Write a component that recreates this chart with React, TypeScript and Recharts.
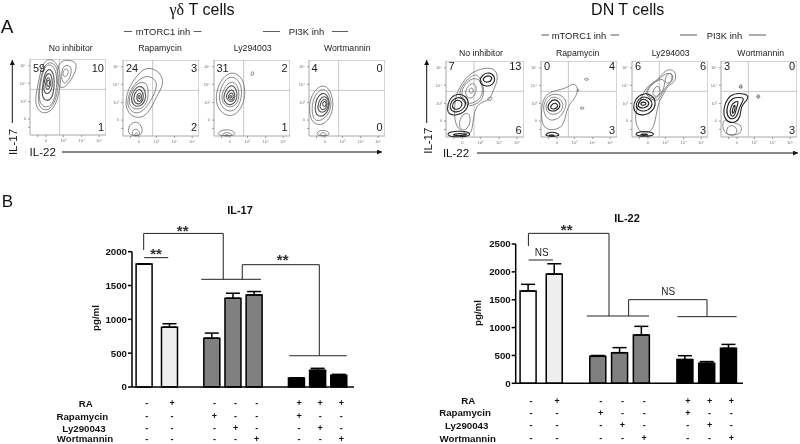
import {
  Bar,
  BarChart,
  Cell,
  ErrorBar,
  ReferenceArea,
  ReferenceLine,
  Scatter,
  ScatterChart,
  XAxis,
  YAxis,
} from "recharts";

const FONT = '"Liberation Sans", Arial, sans-serif';

// flow plot contours, [IL-22, IL-17] on a 0-100 display scale
type Loop = number[][];

const gdNone: Loop[] = [
  [[8,36],[16,28],[26,30],[34,40],[38,55],[41,72],[38,90],[30,100],[20,99],[14,85],[11,68],[7,50]],
  [[10,39],[18,32],[27,34],[34,46],[37,62],[38,80],[33,95],[22,96],[16,84],[12,64]],
  [[12,42],[20,36],[28,38],[33,50],[36,68],[34,86],[27,94],[19,90],[15,74],[12,58]],
  [[36,62],[46,62],[54,72],[62,88],[60,97],[48,99],[38,96],[35,80]],
  [[42,68],[48,68],[54,78],[55,90],[47,93],[41,86]],
  [[44,76],[50,78],[51,86],[46,88],[43,82]],
];
const gdNoneCore: Loop[] = [
  [[15,50],[22,44],[29,48],[32,62],[32,78],[27,88],[20,84],[17,68]],
  [[17,58],[23,53],[28,58],[30,68],[28,80],[23,82],[19,74]],
  [[20,62],[24,59],[27,64],[27,72],[24,77],[21,72]],
  [[22,65],[25,63],[26,68],[25,73],[22,71]],
];
const gdRapa: Loop[] = [
  [[2,38],[6,62],[20,82],[32,92],[50,84],[54,68],[44,52],[38,38],[28,24],[12,24]],
  [[4,42],[10,62],[22,76],[34,80],[46,72],[42,56],[34,42],[24,30],[12,30]],
  [[7,46],[12,62],[22,72],[32,70],[34,54],[30,40],[20,34],[10,38]],
  [[8,0],[6,10],[12,18],[20,19],[26,10],[25,0]],
  [[12,0],[12,7],[17,10],[22,6],[22,0]],
  [[15,0],[16,4],[19,4],[20,0]],
];
const gdRapaCore: Loop[] = [
  [[10,50],[15,62],[23,67],[30,60],[30,46],[22,38],[13,40]],
  [[13,50],[18,61],[24,62],[28,52],[24,42],[16,42]],
  [[17,50],[20,57],[24,56],[25,48],[21,44]],
  [[19,51],[21,54],[23,52],[22,48]],
];
const gdLy: Loop[] = [
  [[2,45],[4,64],[14,80],[26,85],[38,76],[41,60],[40,46],[32,30],[20,25],[8,32]],
  [[6,46],[8,62],[16,76],[26,79],[35,70],[37,56],[34,42],[26,32],[14,33]],
  [[9,48],[12,60],[18,70],[27,72],[33,62],[33,48],[27,38],[16,38]],
  [[48,80],[50,86],[53,83],[51,79]],
  [[4,0],[6,6],[15,9],[26,7],[30,0]],
  [[9,0],[14,5],[22,4],[25,0]],
  [[13,0],[17,3],[21,0]],
];
const gdLyCore: Loop[] = [
  [[12,50],[15,60],[21,67],[28,65],[31,55],[29,45],[22,40],[15,43]],
  [[15,50],[18,58],[24,62],[28,55],[27,47],[21,44]],
  [[18,50],[20,56],[25,57],[26,50],[22,46]],
  [[20,51],[22,54],[24,52],[22,49]],
];
const gdWort: Loop[] = [
  [[1,22],[0,45],[8,62],[20,68],[28,60],[32,46],[31,30],[22,16],[10,14]],
  [[4,28],[4,44],[10,58],[20,63],[27,55],[30,42],[26,28],[16,20],[8,20]],
  [[9,0],[11,6],[18,8],[26,6],[28,0]],
  [[13,0],[16,5],[22,4],[24,0]],
];
const gdWortCore: Loop[] = [
  [[8,30],[8,44],[13,54],[21,58],[27,48],[27,36],[20,26],[12,26]],
  [[11,34],[12,44],[17,52],[23,52],[27,44],[24,34],[17,30]],
  [[14,36],[15,44],[20,50],[24,46],[24,38],[19,34]],
  [[17,40],[19,46],[23,45],[22,38]],
];
const dnNone: Loop[] = [
  [[12,54],[18,66],[28,82],[44,90],[62,92],[68,78],[60,60],[56,48],[44,46],[36,36],[34,10],[30,2],[14,10],[10,28]],
  [[15,55],[21,68],[31,80],[42,84],[50,62],[46,48],[36,42],[28,40]],
  [[18,56],[24,70],[34,78],[44,76],[48,62],[44,50],[34,44],[26,44]],
  [[24,58],[28,68],[36,72],[40,64],[36,52],[28,50]],
  [[28,60],[32,66],[36,62],[33,56]],
  [[18,28],[16,10],[26,8],[32,20],[30,34]],
  [[52,50],[58,54],[60,50],[55,47]],
];
const dnNoneCore: Loop[] = [
  [[1,36],[4,50],[14,58],[26,54],[30,44],[24,32],[12,28],[4,30]],
  [[4,38],[7,48],[15,53],[24,50],[26,42],[20,34],[10,32]],
  [[7,40],[11,48],[17,49],[22,44],[18,37],[11,36]],
  [[42,72],[46,82],[56,86],[64,78],[60,68],[50,66]],
  [[46,74],[50,80],[57,81],[60,76],[54,71]],
  [[2,1],[2,6],[14,8],[30,7],[32,1],[16,0]],
  [[5,2],[14,5],[26,4],[28,2]],
];
const dnRapa: Loop[] = [
  [[0,30],[2,50],[12,60],[26,62],[36,66],[44,72],[50,62],[44,50],[36,42],[32,26],[28,12],[12,8],[2,14]],
  [[2,34],[5,50],[14,57],[26,56],[34,48],[32,36],[24,24],[10,20]],
  [[5,36],[8,48],[16,54],[26,50],[30,42],[26,32],[14,28]],
  [[56,76],[60,78],[64,76],[60,74]],
  [[50,38],[54,40],[58,38],[54,36]],
  [[46,60],[50,64],[50,60]],
];
const dnRapaCore: Loop[] = [
  [[4,1],[8,5],[14,7],[22,5],[26,1]],
  [[8,1],[14,4],[20,1]],
  [[8,38],[11,46],[17,50],[24,47],[26,40],[20,34],[12,34]],
  [[11,38],[15,44],[20,45],[23,40],[18,36]],
];
const dnLy: Loop[] = [
  [[14,55],[20,68],[34,74],[44,90],[58,88],[58,72],[46,68],[42,56],[34,46],[30,14],[22,4],[8,6],[2,30]],
  [[16,56],[23,68],[36,76],[44,84],[54,84],[52,72],[42,64],[38,52],[30,46]],
  [[18,58],[26,70],[36,76],[44,76],[42,62],[34,52],[26,50]],
  [[42,72],[46,84],[54,84],[54,74],[48,70]],
  [[26,56],[30,66],[36,68],[38,58],[32,52]],
];
const dnLyCore: Loop[] = [
  [[1,38],[4,50],[14,58],[26,56],[32,46],[28,34],[16,28],[6,30]],
  [[4,40],[8,50],[16,54],[24,50],[28,44],[22,34],[10,34]],
  [[7,42],[12,50],[18,50],[24,44],[18,38],[10,38]],
  [[10,43],[15,47],[20,44],[15,41]],
  [[3,1],[6,6],[16,8],[28,6],[30,1]],
  [[8,2],[16,5],[24,2]],
];
const dnWort: Loop[] = [
  [[2,2],[2,24],[8,20],[22,18],[28,14],[26,2]],
  [[6,2],[8,14],[16,16],[22,10],[20,2]],
  [[23,66],[26,70],[29,66],[26,63]],
  [[24,66],[26,68],[28,66],[26,64]],
  [[46,53],[49,57],[52,53],[49,50]],
  [[47,53],[49,55],[51,53],[49,51]],
];
const dnWortCore: Loop[] = [
  [[3,28],[4,42],[12,56],[24,58],[36,56],[35,48],[26,42],[26,26],[18,18],[8,20]],
  [[7,28],[8,42],[15,52],[24,52],[32,52],[24,40],[22,28],[15,22]],
  [[11,28],[13,42],[18,46],[24,48],[20,38],[18,26]],
  [[14,30],[16,40],[19,44],[18,32]],
];

const flowTicks = [10, 21, 44, 68, 91];
const flowTickLabels = ["", "0", "10³", "10⁴", "10⁵"];

// quadrant percentages: UL, UR, LR
const gdCounts = [
  ["59", "10", "1"],
  ["24", "3", "2"],
  ["31", "2", "1"],
  ["4", "0", "0"],
];
const dnCounts = [
  ["7", "13", "6"],
  ["0", "4", "3"],
  ["6", "6", "3"],
  ["3", "0", "3"],
];
const inhibitors = ["No inhibitor", "Rapamycin", "Ly294003", "Wortmannin"];

// bar charts
const barSlots = [0, 6, 16, 21, 26, 36, 41, 46];
const il17Values = [1818, 885, 722, 1312, 1361, 133, 246, 172];
const il17Errors = [0, 50, 75, 74, 50, 4, 30, 15];
const il22Values = [1656, 1960, 484, 550, 867, 425, 360, 628];
const il22Errors = [120, 185, 15, 90, 155, 70, 30, 70];
const barFills = ["#ffffff", "#eeeeee", "#808080", "#808080", "#808080", "#000000", "#000000", "#000000"];

const treatmentNames = ["RA", "Rapamycin", "Ly290043", "Wortmannin"];
const raRow = ["-", "+", "-", "-", "-", "+", "+", "+"];
const rapaRow = ["-", "-", "+", "-", "-", "+", "-", "-"];
const lyRow = ["-", "-", "-", "+", "-", "-", "+", "-"];
const wortRow = ["-", "-", "-", "-", "+", "-", "-", "+"];
const treatmentRows = [raRow, rapaRow, lyRow, wortRow];

// significance brackets, [slot, pg/ml]
const il17Brackets = [
  [[0, 2025], [0, 2270], [18.8, 2270], [18.8, 1592]],
  [[0.1, 1912], [5.8, 1912]],
  [[13.6, 1592], [27.7, 1592]],
  [[23.3, 1592], [23.3, 1808], [41.5, 1808], [41.5, 462]],
  [[34.4, 462], [48, 462]],
];
const il22Brackets = [
  [[0.1, 2464], [0.1, 2691], [18.6, 2691], [18.6, 1208]],
  [[0.15, 2213], [5.74, 2213]],
  [[13.5, 1208], [27.8, 1208]],
  [[23.1, 1208], [23.1, 1501], [41.1, 1501], [41.1, 1196]],
  [[34.3, 1196], [47.9, 1196]],
];

function FlowPanel({ left, top, width, height, gateX, gateY, loops, core = [], coreStroke, counts, labelTop, labelBottom }: {
  left: number; top: number; width: number; height: number; gateX: number; gateY: number;
  loops: Loop[]; core?: Loop[]; coreStroke: string; counts: string[]; labelTop: number; labelBottom: number;
}) {
  const axisW = 14;
  const axisH = 10;
  const drawLoop = (loop: Loop, key: string, stroke: string, strokeWidth: number) => (
    <Scatter
      key={key}
      data={loop.map(([x, y]) => ({ x, y }))}
      line={{ stroke, strokeWidth }}
      lineJointType="basisClosed"
      shape={() => <g />}
      isAnimationActive={false}
    />
  );
  const labelStyle = { position: "absolute", fontFamily: FONT, fontSize: 11, color: "#222", lineHeight: "11px" } as const;
  return (
    <div style={{ position: "absolute", left: left - axisW, top }}>
      <ScatterChart width={width + axisW} height={height + axisH} margin={{ top: 0, right: 0, bottom: 0, left: 0 }}>
        <XAxis
          type="number"
          dataKey="x"
          domain={[0, 100]}
          ticks={flowTicks}
          tickFormatter={(v: number) => flowTickLabels[flowTicks.indexOf(v)]}
          height={axisH}
          interval={0}
          tickSize={2}
          axisLine={false}
          stroke="#999"
          tick={{ fontSize: 4, fill: "#777", fontFamily: FONT }}
        />
        <YAxis
          type="number"
          dataKey="y"
          domain={[0, 100]}
          ticks={flowTicks}
          tickFormatter={(v: number) => flowTickLabels[flowTicks.indexOf(v)]}
          width={axisW}
          interval={0}
          tickSize={2}
          axisLine={false}
          stroke="#999"
          tick={{ fontSize: 4, fill: "#777", fontFamily: FONT }}
        />
        <ReferenceArea x1={0} x2={100} y1={0} y2={100} fill="none" stroke="#a8a8a8" strokeWidth={1} />
        <ReferenceLine x={gateX} stroke="#bbb" strokeWidth={0.8} />
        <ReferenceLine y={gateY} stroke="#bbb" strokeWidth={0.8} />
        {loops.map((loop, i) => drawLoop(loop, `l${i}`, "#6a6a6a", 0.8))}
        {core.map((loop, i) => drawLoop(loop, `c${i}`, coreStroke, 1.1))}
      </ScatterChart>
      <div style={{ ...labelStyle, left: axisW + 3, top: labelTop - top }}>{counts[0]}</div>
      <div style={{ ...labelStyle, right: 2, top: labelTop - top }}>{counts[1]}</div>
      <div style={{ ...labelStyle, right: 2, top: labelBottom - top }}>{counts[2]}</div>
    </div>
  );
}

function TreatmentTick({ x, index, rowY }: { x: number; index: number; rowY: number[] }) {
  return (
    <g>
      {treatmentRows.map((row, r) => (
        <text key={r} x={x + 3} y={rowY[r]} textAnchor="middle" dominantBaseline="central" fontFamily={FONT} fontWeight="bold" fontSize={9} fill="#111">
          {row[index]}
        </text>
      ))}
    </g>
  );
}

function CytokineChart({ left, values, errors, brackets, yMax, yTicks, margin, axisWidth, axisHeight, xDomain, rowY }: {
  left: number; values: number[]; errors: number[]; brackets: number[][][]; yMax: number; yTicks: number[];
  margin: { top: number; right: number }; axisWidth: number; axisHeight: number; xDomain: number[]; rowY: number[];
}) {
  const data = barSlots.map((slot, i) => ({ slot, value: values[i], err: [0, errors[i]] }));
  return (
    <div style={{ position: "absolute", left, top: 190 }}>
      <BarChart width={400} height={254} data={data} margin={{ top: margin.top, right: margin.right, bottom: 0, left: 0 }}>
        <XAxis
          type="number"
          dataKey="slot"
          domain={xDomain}
          allowDataOverflow
          ticks={barSlots}
          interval={0}
          height={axisHeight}
          tickLine={false}
          axisLine={{ stroke: "#000", strokeWidth: 1.5 }}
          tick={(p: any) => <TreatmentTick x={p.x} index={p.index} rowY={rowY} />}
        />
        <YAxis
          type="number"
          domain={[0, yMax]}
          ticks={yTicks}
          width={axisWidth}
          interval={0}
          tickSize={4}
          tickMargin={1}
          axisLine={{ stroke: "#000", strokeWidth: 1.5 }}
          tickLine={{ stroke: "#000", strokeWidth: 1.5 }}
          tick={{ fontSize: 9.7, fontWeight: "bold", fill: "#111", fontFamily: FONT }}
        />
        <Bar dataKey="value" barSize={16} stroke="#000" strokeWidth={1.5} isAnimationActive={false}>
          {data.map((d, i) => (
            <Cell key={d.slot} fill={barFills[i]} />
          ))}
          <ErrorBar dataKey="err" direction="y" width={7} stroke="#000" strokeWidth={1.5} isAnimationActive={false} />
        </Bar>
        {brackets.flatMap((path, b) =>
          path.slice(1).map((pt, i) => (
            <ReferenceLine
              key={`${b}-${i}`}
              segment={[
                { x: path[i][0], y: path[i][1] },
                { x: pt[0], y: pt[1] },
              ]}
              ifOverflow="visible"
              stroke="#222"
              strokeWidth={1}
            />
          )),
        )}
      </BarChart>
    </div>
  );
}

function T({ x, y, size, bold, rot, family, color = "#111", children }: any) {
  return (
    <text
      x={x}
      y={y}
      fontSize={size}
      fontWeight={bold ? "bold" : "normal"}
      fontFamily={family ?? FONT}
      fill={color}
      textAnchor="middle"
      dominantBaseline="central"
      transform={rot ? `rotate(${rot} ${x} ${y})` : undefined}
    >
      {children}
    </text>
  );
}

const gdPanels = [
  { left: 30, top: 58.5, width: 76, gateX: 39, gateY: 60, loops: gdNone, core: gdNoneCore },
  { left: 123, top: 60, width: 76, gateX: 39, gateY: 60, loops: gdRapa, core: gdRapaCore },
  { left: 213.5, top: 60, width: 76, gateX: 39, gateY: 60, loops: gdLy, core: gdLyCore },
  { left: 308.5, top: 60, width: 76, gateX: 39, gateY: 60, loops: gdWort, core: gdWortCore },
];
const dnPanels = [
  { left: 445.5, top: 60.5, width: 78, gateX: 36, gateY: 60, loops: dnNone, core: dnNoneCore },
  { left: 541, top: 60.5, width: 76, gateX: 36, gateY: 60, loops: dnRapa, core: dnRapaCore },
  { left: 632, top: 60.5, width: 76, gateX: 36, gateY: 60, loops: dnLy, core: dnLyCore },
  { left: 721, top: 60.5, width: 76, gateX: 36, gateY: 60, loops: dnWort, core: dnWortCore },
];

export default function App() {
  return (
    <div style={{ position: "absolute", left: 0, top: 0, width: 800, height: 444, overflow: "hidden", background: "#fff", filter: "blur(0.4px)" }}>
      {gdPanels.map((p, i) => (
        <FlowPanel key={i} {...p} height={76} coreStroke="#555" counts={gdCounts[i]} labelTop={62.5} labelBottom={121.5} />
      ))}
      {dnPanels.map((p, i) => (
        <FlowPanel key={i} {...p} height={76} coreStroke="#222" counts={dnCounts[i]} labelTop={61} labelBottom={124.5} />
      ))}
      <CytokineChart
        left={0}
        values={il17Values}
        errors={il17Errors}
        brackets={il17Brackets}
        yMax={2000}
        yTicks={[0, 500, 1000, 1500, 2000]}
        margin={{ top: 61.7, right: 46 }}
        axisWidth={132}
        axisHeight={57}
        xDomain={[-2.76, 49.7]}
        rowY={[213, 226, 238, 249]}
      />
      <CytokineChart
        left={400}
        values={il22Values}
        errors={il22Errors}
        brackets={il22Brackets}
        yMax={2500}
        yTicks={[0, 500, 1000, 1500, 2000, 2500]}
        margin={{ top: 54, right: 57 }}
        axisWidth={115.7}
        axisHeight={60.7}
        xDomain={[-2.82, 49.36]}
        rowY={[210.7, 222.7, 235.3, 248]}
      />
      <svg width={800} height={444} style={{ position: "absolute", left: 0, top: 0, pointerEvents: "none" }}>
        <defs>
          <marker id="tip" markerWidth="6" markerHeight="6" refX="5" refY="2.5" orient="auto">
            <path d="M0,0 L5,2.5 L0,5 Z" fill="#111" />
          </marker>
        </defs>
        <text x={202} y={14.5} fontSize={16} textAnchor="middle" fill="#111" fontFamily={FONT}>
          <tspan fontFamily='"Liberation Serif", serif'>γδ</tspan> T cells
        </text>
        <text x={627.7} y={14.5} fontSize={16} textAnchor="middle" fill="#111" fontFamily={FONT}>DN T cells</text>
        <T x={7} y={26} size={19}>A</T>
        <T x={7.5} y={201} size={17}>B</T>

        <T x={163} y={31.5} size={9.4} color="#222">mTORC1 inh</T>
        <T x={306.5} y={31.5} size={9.4} color="#222">PI3K inh</T>
        <T x={579} y={35} size={9.4} color="#222">mTORC1 inh</T>
        <T x={724.5} y={35} size={9.4} color="#222">PI3K inh</T>
        {[
          [124, 132, 31.5], [193.5, 201.5, 31.5], [263, 280, 31.5], [332, 348, 31.5],
          [541.5, 549, 35], [610.5, 619, 35], [680, 697, 35], [749, 766, 35],
        ].map(([x1, x2, y], i) => (
          <line key={i} x1={x1} x2={x2} y1={y} y2={y} stroke="#333" strokeWidth={0.8} />
        ))}

        {inhibitors.map((name, i) => (
          <T key={i} x={[70.7, 160, 252.7, 347.3][i]} y={48.3} size={8.7} color="#222">{name}</T>
        ))}
        {inhibitors.map((name, i) => (
          <T key={i} x={[481, 577.7, 670.7, 760.7][i]} y={53} size={8.7} color="#222">{name}</T>
        ))}

        <line x1={12.3} x2={12.3} y1={123} y2={60} stroke="#111" strokeWidth={1} markerEnd="url(#tip)" />
        <T x={13} y={142} size={11.5} rot={-90}>IL-17</T>
        <T x={42.7} y={152} size={11.5}>IL-22</T>
        <line x1={62} x2={382} y1={152} y2={152} stroke="#111" strokeWidth={1} markerEnd="url(#tip)" />

        <line x1={426.7} x2={426.7} y1={123} y2={60} stroke="#111" strokeWidth={1} markerEnd="url(#tip)" />
        <T x={428} y={140.7} size={11.5} rot={-90}>IL-17</T>
        <T x={456} y={153} size={11.5}>IL-22</T>
        <line x1={477} x2={798} y1={153} y2={153} stroke="#111" strokeWidth={1} markerEnd="url(#tip)" />

        <T x={240} y={210} size={11} bold>IL-17</T>
        <T x={627} y={218.3} size={11} bold>IL-22</T>
        <T x={95} y={318} size={9.7} bold rot={-90}>pg/ml</T>
        <T x={477.3} y={313} size={9.7} bold rot={-90}>pg/ml</T>
        <T x={182.7} y={230.5} size={15} bold color="#333">**</T>
        <T x={156} y={253.5} size={15} bold color="#333">**</T>
        <T x={282.7} y={259.5} size={15} bold color="#333">**</T>
        <T x={566.7} y={229.5} size={15} bold color="#333">**</T>
        <T x={541.7} y={252.7} size={10} color="#222">NS</T>
        <T x={668.3} y={291.7} size={10} color="#222">NS</T>

        {treatmentNames.map((name, i) => (
          <T key={i} x={[85.7, 82.3, 84, 85][i]} y={[403, 416, 428.3, 438.4][i]} size={9.7} bold>{name}</T>
        ))}
        {treatmentNames.map((name, i) => (
          <T key={i} x={[468.3, 465, 466.7, 467.7][i]} y={[400.7, 412.7, 425.3, 438][i]} size={9.7} bold>{name}</T>
        ))}
      </svg>
    </div>
  );
}
